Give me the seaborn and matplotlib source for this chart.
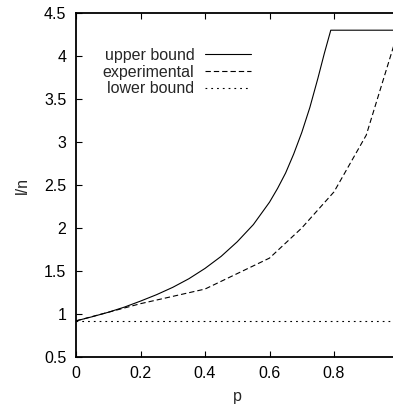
import matplotlib
matplotlib.use("Agg")
import matplotlib.pyplot as plt
import seaborn as sns
from matplotlib.ticker import FormatStrFormatter, MultipleLocator

# data
p_upper = [0.0, 0.05, 0.1, 0.15, 0.2, 0.25, 0.3, 0.35, 0.4, 0.45, 0.5, 0.55,
           0.6, 0.625, 0.65, 0.675, 0.7, 0.725, 0.75, 0.77, 0.79, 1.0]
upper = [0.92, 0.968, 1.02, 1.08, 1.15, 1.225, 1.31, 1.41, 1.53, 1.67, 1.84, 2.04,
         2.30, 2.46, 2.64, 2.86, 3.11, 3.40, 3.74, 4.03, 4.3, 4.3]
p_exp = [0.0, 0.2, 0.4, 0.6, 0.7, 0.8, 0.9, 1.0]
experimental = [0.92, 1.12, 1.29, 1.65, 2.0, 2.42, 3.08, 4.3]
p_lower = [0.0, 1.0]
lower = [0.92, 0.92]
x_ticks = [0.0, 0.2, 0.4, 0.6, 0.8]
labels = ["upper bound", "experimental", "lower bound"]

sns.set_style("ticks")
plt.rcParams["font.family"] = ["Liberation Sans", "DejaVu Sans"]
FS = 11.5
plt.rcParams["font.size"] = FS

fig = plt.figure(figsize=(3.93, 4.04), dpi=100)
ax = fig.add_axes([76 / 393, 1 - 357 / 404, 322.5 / 393, 344 / 404])

lw = 0.8
sns.lineplot(x=p_upper, y=upper, ax=ax, color="black", lw=lw, label=labels[0],
             linestyle="-")
sns.lineplot(x=p_exp, y=experimental, ax=ax, color="black", lw=lw, label=labels[1],
             linestyle=(0, (4.8, 2.7)))
sns.lineplot(x=p_lower, y=lower, ax=ax, color="black", lw=lw, label=labels[2],
             linestyle=(0, (1.6, 3.6)))

ax.set_xlim(0, 1)
ax.set_ylim(0.5, 4.5)
ax.set_xticks(x_ticks)
ax.yaxis.set_major_locator(MultipleLocator(0.5))
ax.xaxis.set_major_formatter(FormatStrFormatter("%g"))
ax.yaxis.set_major_formatter(FormatStrFormatter("%g"))
ax.tick_params(direction="in", length=4.5, width=0.8, top=True, right=True,
               labelsize=FS, colors="black")
ax.tick_params(axis="x", pad=6.5)
ax.tick_params(axis="y", pad=7)
for s in ax.spines.values():
    s.set_visible(True)
    s.set_linewidth(1.3)
    s.set_color("black")

ax.set_xlabel("p", fontsize=FS, labelpad=6)
ax.set_ylabel("l/n", fontsize=FS, labelpad=10)

leg = ax.legend(loc="upper right", bbox_to_anchor=(0.543, 0.898), frameon=False,
                markerfirst=False, handlelength=2.9, handletextpad=0.65,
                labelspacing=0.1, borderpad=0, borderaxespad=0, fontsize=FS)

fig.savefig("out.png", dpi=100)
